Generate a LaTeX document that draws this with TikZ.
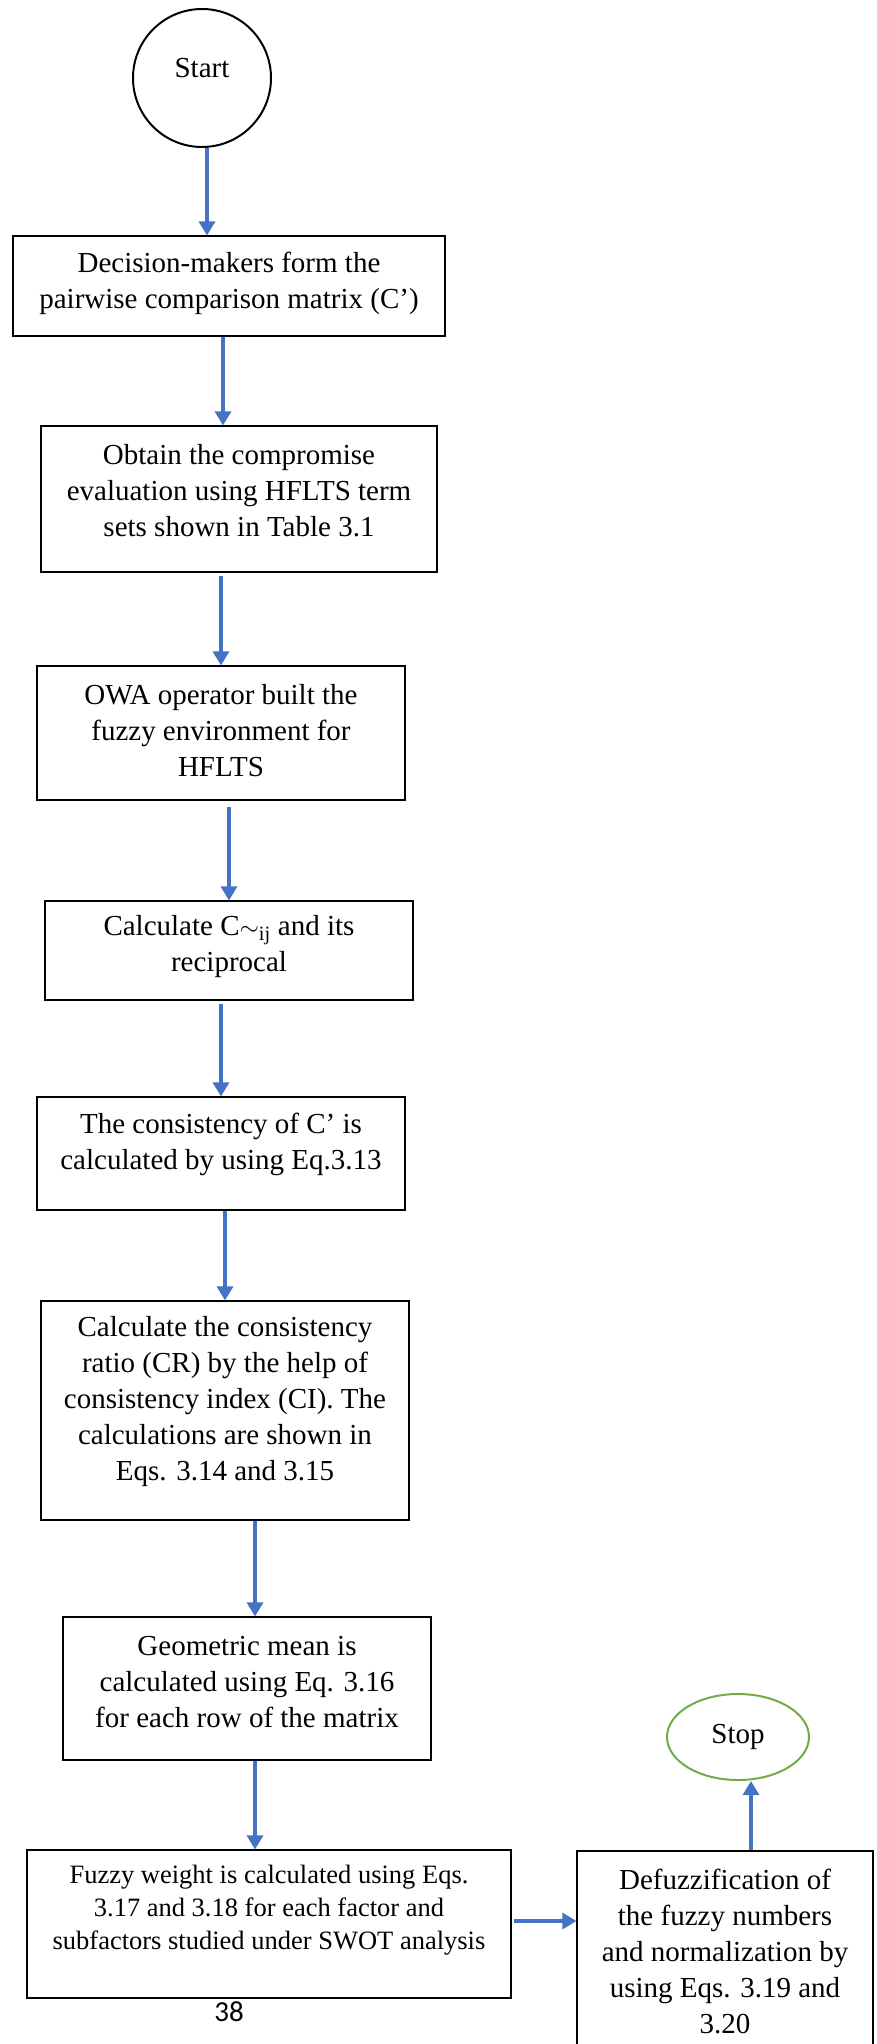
\documentclass[tikz,border=0pt]{standalone}
\usepackage{fontspec}
\setmainfont{Liberation Serif}
\newfontfamily\pagefont{Carlito}
\usetikzlibrary{arrows.meta,shapes.geometric}
\definecolor{arrblue}{HTML}{4472C4}
\definecolor{stopgreen}{HTML}{70AD47}
\begin{document}
\begin{tikzpicture}[x=1pt,y=-1pt,
  box/.style={draw=black, line width=1.2pt, rectangle, inner sep=0pt},
  txt/.style={align=center, font=\fontsize{29}{36}\selectfont, inner sep=0pt},
  smalltxt/.style={align=center, font=\fontsize{26.5}{33}\selectfont, inner sep=0pt},
  arr/.style={draw=arrblue, line width=3.3pt, -{Triangle[length=14pt,width=16pt]}},
]
\useasboundingbox (0,0) rectangle (877,2044);
\clip (0,0) rectangle (877,2044);

% start / stop
\node[circle, draw=black, line width=2pt, minimum size=138pt, inner sep=0pt] (start) at (202,78) {};
\node[txt] (starttxt) at (202,68) {Start};
\node[ellipse, draw=stopgreen, line width=2pt, minimum width=142pt, minimum height=86pt, inner sep=0pt] (stop) at (738,1737) {};
\node[txt] (stoptxt) at (738,1737) {Stop};

% boxes
\node[box, minimum width=432pt, minimum height=100pt] (b1) at (229,286) {};
\node[txt] at (229,283) {Decision-makers form the\\pairwise comparison matrix (C’)};

\node[box, minimum width=396pt, minimum height=146pt] (b2) at (239,499) {};
\node[txt] at (239,491) {Obtain the compromise\\evaluation using HFLTS term\\sets shown in Table 3.1};

\node[box, minimum width=368pt, minimum height=134pt] (b3) at (221,733) {};
\node[txt] at (221,731) {OWA operator built the\\fuzzy environment for\\HFLTS};

\node[box, minimum width=368pt, minimum height=99pt] (b4) at (229,950.5) {};
\node[txt] at (229,947) {Calculate C$\sim$\textsubscript{ij} and its\\reciprocal};

\node[box, minimum width=368pt, minimum height=113pt] (b5) at (221,1153.5) {};
\node[txt] at (221,1144) {The consistency of C’ is\\calculated by using Eq.3.13};

\node[box, minimum width=368pt, minimum height=219pt] (b6) at (225,1410.5) {};
\node[txt] at (225,1402) {Calculate the consistency\\ratio (CR) by the help of\\consistency index (CI). The\\calculations are shown in\\Eqs. 3.14 and 3.15};

\node[box, minimum width=368pt, minimum height=143pt] (b7) at (247,1688.5) {};
\node[txt] at (247,1682) {Geometric mean is\\calculated using Eq. 3.16\\for each row of the matrix};

\node[box, minimum width=484pt, minimum height=148pt] (b8) at (269,1924) {};
\node[smalltxt] at (269,1910) {Fuzzy weight is calculated using Eqs.\\3.17 and 3.18 for each factor and\\subfactors studied under SWOT analysis};

\node[box, minimum width=296pt, minimum height=249pt] (b9) at (725,1975.5) {};
\node[txt] at (725,1951) {Defuzzification of\\the fuzzy numbers\\and normalization by\\using Eqs. 3.19 and\\3.20};

\node[font=\pagefont\fontsize{29}{34}\selectfont, inner sep=0pt] (pg) at (229,2012) {38};

% connectors
\draw[arr] (207,0 |- start.south) -- (207,0 |- b1.north);
\draw[arr] (223,0 |- b1.south) -- (223,0 |- b2.north);
\draw[arr] ([yshift=-3pt]221,0 |- b2.south) -- (221,0 |- b3.north);
\draw[arr] ([yshift=-6pt]229,0 |- b3.south) -- (229,0 |- b4.north);
\draw[arr] ([yshift=-3pt]221,0 |- b4.south) -- (221,0 |- b5.north);
\draw[arr] (225,0 |- b5.south) -- (225,0 |- b6.north);
\draw[arr] (255,0 |- b6.south) -- (255,0 |- b7.north);
\draw[arr] (255,0 |- b7.south) -- (255,0 |- b8.north);
\draw[arr] ([xshift=2pt]b8.east |- 0,1921) -- (b9.west |- 0,1921);
\draw[arr] (751,0 |- b9.north) -- (751,0 |- stop.south);
\end{tikzpicture}
\end{document}
